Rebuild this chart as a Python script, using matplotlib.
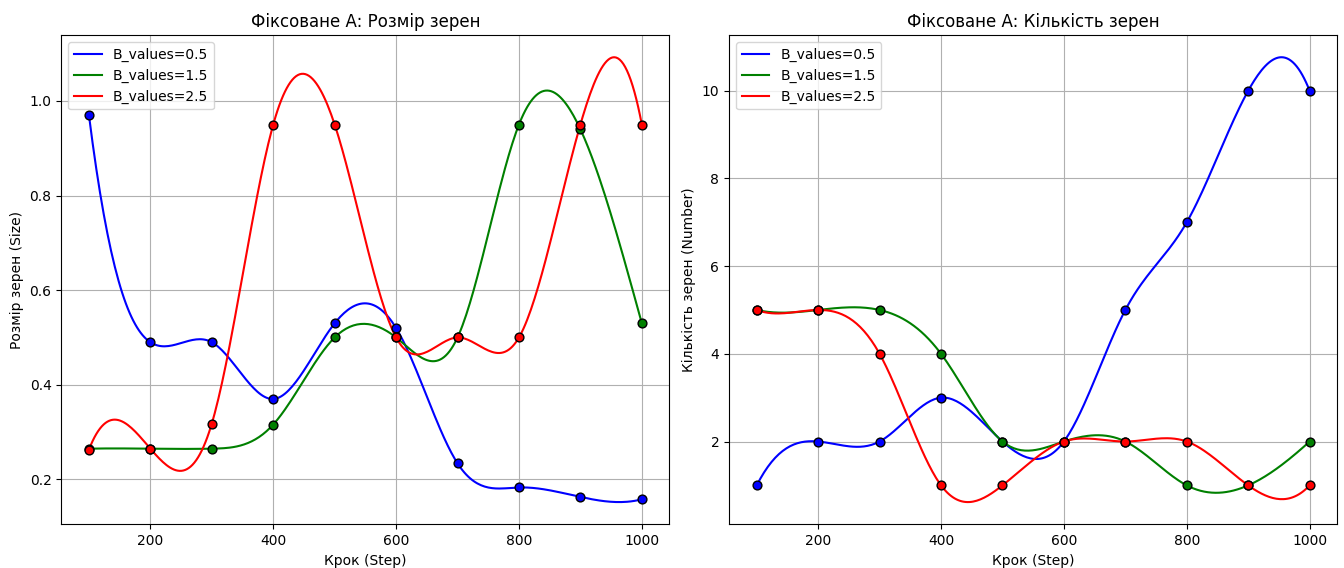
import numpy as np
import matplotlib
matplotlib.use("Agg")
import matplotlib.pyplot as plt

steps = [100, 200, 300, 400, 500, 600, 700, 800, 900, 1000]
b_labels = ["B_values=0.5", "B_values=1.5", "B_values=2.5"]
colors = ["blue", "green", "red"]

size_b05 = [0.97, 0.49, 0.49, 0.37, 0.53, 0.52, 0.234, 0.183, 0.163, 0.158]
size_b15 = [0.265, 0.265, 0.265, 0.316, 0.50, 0.50, 0.50, 0.95, 0.94, 0.53]
size_b25 = [0.263, 0.265, 0.318, 0.95, 0.95, 0.50, 0.50, 0.50, 0.95, 0.95]

count_b05 = [1, 2, 2, 3, 2, 2, 5, 7, 10, 10]
count_b15 = [5, 5, 5, 4, 2, 2, 2, 1, 1, 2]
count_b25 = [5, 5, 4, 1, 1, 2, 2, 2, 1, 1]


def spline_curve(x, y, num=300):
    """Not-a-knot cubic spline through the data points."""
    x = np.asarray(x, float)
    y = np.asarray(y, float)
    n = len(x)
    h = np.diff(x)
    A = np.zeros((n, n))
    r = np.zeros(n)
    for i in range(1, n - 1):
        A[i, i - 1] = h[i - 1]
        A[i, i] = 2 * (h[i - 1] + h[i])
        A[i, i + 1] = h[i]
        r[i] = 6 * ((y[i + 1] - y[i]) / h[i] - (y[i] - y[i - 1]) / h[i - 1])
    # not-a-knot
    A[0, 0] = h[1]
    A[0, 1] = -(h[0] + h[1])
    A[0, 2] = h[0]
    A[-1, -3] = h[-1]
    A[-1, -2] = -(h[-2] + h[-1])
    A[-1, -1] = h[-2]
    M = np.linalg.solve(A, r)
    xs = np.linspace(x[0], x[-1], num)
    idx = np.clip(np.searchsorted(x, xs) - 1, 0, n - 2)
    x0, x1 = x[idx], x[idx + 1]
    hh = x1 - x0
    t0 = x1 - xs
    t1 = xs - x0
    ys = (M[idx] * t0 ** 3 / (6 * hh) + M[idx + 1] * t1 ** 3 / (6 * hh)
          + (y[idx] / hh - M[idx] * hh / 6) * t0
          + (y[idx + 1] / hh - M[idx + 1] * hh / 6) * t1)
    return xs, ys


fig, axes = plt.subplots(1, 2, figsize=(13.44, 5.68), dpi=100)
fig.subplots_adjust(left=0.0456, right=0.995, top=0.9384, bottom=0.0769, wspace=0.098)

panels = [
    (axes[0], [size_b05, size_b15, size_b25], "Фіксоване A: Розмір зерен", "Розмір зерен (Size)"),
    (axes[1], [count_b05, count_b15, count_b25], "Фіксоване A: Кількість зерен", "Кількість зерен (Number)"),
]

for ax, series, title, ylabel in panels:
    for vals, lab, col in zip(series, b_labels, colors):
        xs, ys = spline_curve(steps, vals)
        ax.plot(xs, ys, color=col, label=lab, linewidth=1.5)
        ax.scatter(steps, vals, color=col, edgecolors="black", s=40, zorder=3)
    ax.set_title(title)
    ax.set_xlabel("Крок (Step)")
    ax.set_ylabel(ylabel)
    ax.legend(loc="upper left")
    ax.grid(True)

plt.savefig("out.png", dpi=100)
